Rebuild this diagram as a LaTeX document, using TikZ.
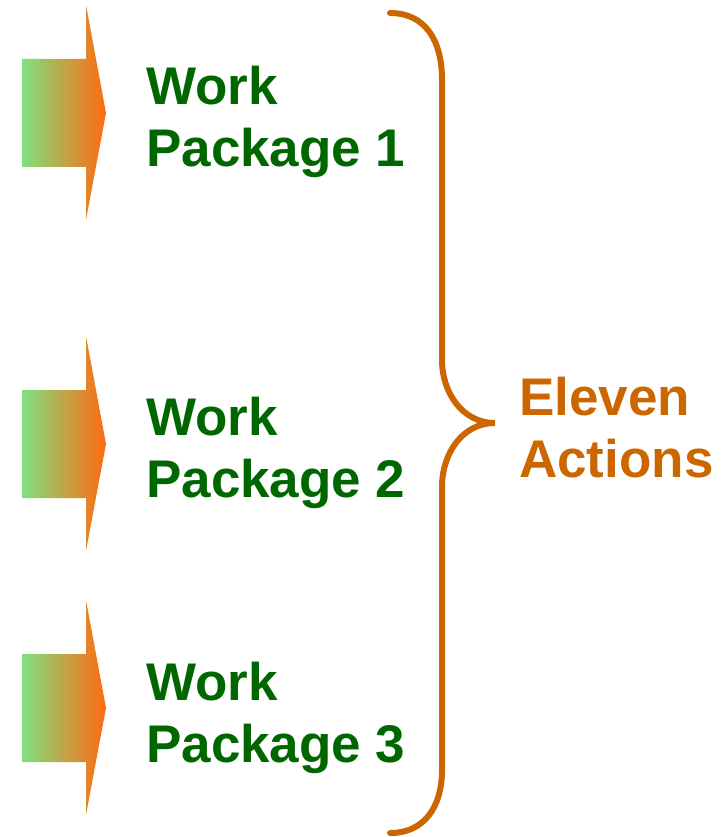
\documentclass[tikz,border=0pt]{standalone}
\usepackage{fontspec}
\setmainfont{Liberation Sans}
\definecolor{wpgreen}{HTML}{006600}
\definecolor{wporange}{HTML}{CC6600}
\definecolor{arrowgreen}{HTML}{80E080}
\definecolor{arrowred}{HTML}{FF6A10}
\begin{document}
\begin{tikzpicture}[x=1pt, y=-1pt]
\tikzstyle{wp} = [anchor=north west, inner sep=0pt, align=left, text=wpgreen,
    font=\fontsize{53}{62}\selectfont\bfseries]
\tikzstyle{total} = [anchor=north west, inner sep=0pt, align=left, text=wporange,
    font=\fontsize{53}{62}\selectfont\bfseries]
\tikzstyle{brace} = [draw=wporange, line width=6pt, line cap=round]
\useasboundingbox (0,0) rectangle (720,837);

% arrows
\foreach \y in {113,444,708} {
    \shade[left color=arrowgreen, right color=arrowred]
        (22,\y-54) -- (86,\y-54) -- (86,\y-108) -- (106,\y)
        -- (86,\y+107) -- (86,\y+54) -- (22,\y+54) -- cycle;
}

% packages
\node[wp] (wp1) at (146,66) {Work\\Package 1};
\node[wp] (wp2) at (146,397) {Work\\Package 2};
\node[wp] (wp3) at (146,662) {Work\\Package 3};

% brace
\draw[brace] (390,13) .. controls (425,13) and (442,40) .. (442,80)
    -- (442,360) .. controls (442,392) and (462,423) .. (495,423)
    .. controls (462,423) and (442,454) .. (442,487)
    -- (442,770) .. controls (442,806) and (425,833) .. (390,833);

\node[total] (actions) at (519,377) {Eleven\\Actions};
\end{tikzpicture}
\end{document}
